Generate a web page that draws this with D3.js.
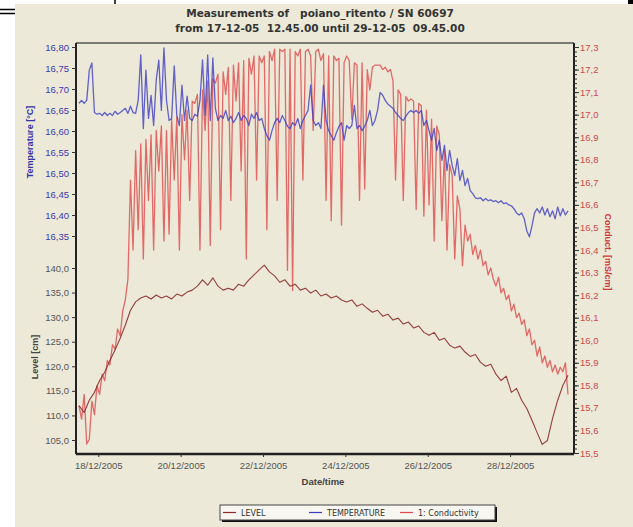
<!DOCTYPE html>
<html>
<head>
<meta charset="utf-8">
<title>Measurements of poiano_ritento</title>
<script src="https://d3js.org/d3.v7.min.js"></script>
<style>
  body { margin: 0; background: #fff; }
  svg text { font-family: "Liberation Sans", Arial, sans-serif; }
  .tick line { stroke: #333; }
</style>
</head>
<body>
<div id="chart"></div>
<script>
// ---- data ----
const titleLines = ["Measurements of   poiano_ritento / SN 60697",
                    "from 17-12-05  12.45.00 until 29-12-05  09.45.00"];

// temperature + conductivity sampled every 90 min from 17-12-05 12:45
const sampleStart = new Date(2005, 11, 17, 12, 45);
const sampleStepMin = 90;
const tempValues = [
  16.666, 16.673, 16.666, 16.673, 16.745, 16.762, 16.644, 16.640, 16.642, 16.637,
  16.644, 16.637, 16.642, 16.637, 16.647, 16.640, 16.644, 16.649, 16.654, 16.642,
  16.659, 16.644, 16.642, 16.673, 16.781, 16.606, 16.745, 16.630, 16.685, 16.613,
  16.721, 16.769, 16.649, 16.798, 16.673, 16.625, 16.630, 16.755, 16.637, 16.613,
  16.709, 16.625, 16.683, 16.630, 16.625, 16.640, 16.635, 16.673, 16.769, 16.637,
  16.781, 16.625, 16.774, 16.654, 16.625, 16.637, 16.630, 16.649, 16.625, 16.635,
  16.620, 16.630, 16.644, 16.625, 16.637, 16.630, 16.613, 16.640, 16.630, 16.644,
  16.625, 16.630, 16.606, 16.589, 16.578, 16.601, 16.620, 16.630, 16.620, 16.637,
  16.625, 16.611, 16.606, 16.620, 16.613, 16.630, 16.606, 16.625, 16.637, 16.649,
  16.709, 16.625, 16.613, 16.620, 16.606, 16.709, 16.625, 16.601, 16.589, 16.578,
  16.596, 16.611, 16.620, 16.578, 16.613, 16.606, 16.613, 16.661, 16.606, 16.613,
  16.601, 16.611, 16.625, 16.649, 16.613, 16.625, 16.649, 16.692, 16.685, 16.673,
  16.664, 16.659, 16.654, 16.644, 16.637, 16.630, 16.625, 16.635, 16.644, 16.649,
  16.644, 16.649, 16.642, 16.649, 16.613, 16.625, 16.601, 16.578, 16.606, 16.554,
  16.578, 16.530, 16.566, 16.506, 16.554, 16.518, 16.494, 16.534, 16.482, 16.506,
  16.470, 16.487, 16.458, 16.451, 16.441, 16.439, 16.441, 16.434, 16.439, 16.434,
  16.436, 16.432, 16.434, 16.429, 16.434, 16.427, 16.429, 16.424, 16.422, 16.415,
  16.405, 16.400, 16.405, 16.391, 16.362, 16.348, 16.374, 16.405, 16.415, 16.405,
  16.419, 16.400, 16.415, 16.396, 16.410, 16.391, 16.419, 16.398, 16.415, 16.400,
  16.410
];
const condValues = [
  15.71, 15.65, 15.76, 15.54, 15.56, 15.73, 15.67, 15.80, 15.76, 15.85,
  15.82, 15.91, 15.89, 15.98, 15.96, 16.05, 16.02, 16.13, 16.18, 16.27,
  16.71, 16.40, 16.84, 16.49, 16.87, 16.36, 16.89, 16.62, 16.91, 16.40,
  16.93, 16.75, 16.95, 16.44, 16.93, 16.47, 16.98, 16.71, 16.99, 16.40,
  17.00, 16.80, 17.02, 16.62, 17.06, 17.05, 17.09, 16.40, 17.11, 16.93,
  17.15, 16.42, 17.16, 17.14, 17.18, 16.49, 17.19, 17.09, 17.21, 16.62,
  17.22, 17.06, 17.23, 16.75, 17.24, 16.36, 17.25, 17.18, 17.26, 16.71,
  17.26, 17.23, 17.26, 16.49, 17.28, 17.24, 17.29, 16.62, 17.29, 17.28,
  17.29, 16.31, 17.29, 16.22, 17.28, 17.26, 17.29, 16.71, 17.28, 17.29,
  17.26, 16.93, 17.28, 17.29, 17.24, 17.27, 16.62, 17.26, 16.53, 17.26,
  17.24, 17.25, 16.51, 17.23, 17.26, 17.24, 16.98, 17.23, 17.22, 16.62,
  17.23, 16.67, 17.20, 17.11, 17.21, 17.22, 17.22, 17.22, 17.20, 17.21,
  17.19, 17.20, 17.15, 16.71, 17.11, 17.09, 16.62, 17.08, 17.06, 17.07,
  17.06, 16.58, 17.05, 17.04, 16.55, 17.02, 16.60, 16.98, 16.44, 16.95,
  16.91, 16.53, 16.84, 16.40, 16.78, 16.73, 16.36, 16.64, 16.58, 16.33,
  16.51, 16.44, 16.47, 16.38, 16.42, 16.36, 16.40, 16.33, 16.35, 16.29,
  16.32, 16.27, 16.24, 16.28, 16.21, 16.23, 16.18, 16.20, 16.13, 16.16,
  16.10, 16.12, 16.07, 16.09, 16.02, 16.05, 15.98, 16.00, 15.93, 15.97,
  15.90, 15.93, 15.88, 15.91, 15.86, 15.89, 15.85, 15.88, 15.86, 15.90,
  15.76
];
// level sampled every 3 h from the same start
const levelStepMin = 180;
const levelValues = [
  112.0, 110.6, 113.1, 114.7, 117.1, 118.8, 121.2, 123.3, 125.7, 128.4,
  131.4, 133.1, 133.9, 134.3, 133.7, 134.5, 133.9, 134.3, 133.7, 134.7,
  134.3, 135.1, 135.5, 136.3, 137.6, 136.5, 138.0, 136.3, 135.5, 135.9,
  135.5, 136.7, 136.3, 137.6, 138.6, 139.6, 140.6, 139.2, 138.4, 137.1,
  137.6, 136.3, 136.7, 135.5, 135.9, 134.9, 135.5, 134.3, 134.7, 133.9,
  134.3, 133.5, 133.1, 133.5, 132.2, 132.7, 131.8, 131.0, 131.4, 130.2,
  130.6, 129.4, 129.8, 128.6, 129.0, 127.8, 128.2, 126.9, 126.3, 126.9,
  125.3, 125.7, 124.3, 123.7, 124.1, 122.9, 122.0, 122.4, 120.8, 120.0,
  120.4, 118.4, 117.1, 118.0, 114.7, 115.5, 113.1, 111.4, 109.0, 106.5,
  104.1, 104.9, 109.4, 113.1, 116.1, 118.2
];

const tempTicks = [16.35, 16.40, 16.45, 16.50, 16.55, 16.60, 16.65, 16.70, 16.75, 16.80];
const levelTicks = [105, 110, 115, 120, 125, 130, 135, 140];
const condTicks = [15.5, 15.6, 15.7, 15.8, 15.9, 16.0, 16.1, 16.2, 16.3, 16.4,
                   16.5, 16.6, 16.7, 16.8, 16.9, 17.0, 17.1, 17.2, 17.3];
const dateTicks = [18, 20, 22, 24, 26, 28].map(d => new Date(2005, 11, d));
const legendItems = ["LEVEL", "TEMPERATURE", "1: Conductivity"];

// ---- layout ----
const W = 633, H = 527;
const plot = {left: 76, right: 574, top: 43, bottom: 454};
const colors = {level: "#8c2b2b", temp: "#3d3dc4", cond: "#e0494a", bg: "#ece9d8"};

const svg = d3.select("#chart").append("svg")
    .attr("width", W).attr("height", H);

svg.append("rect").attr("width", W).attr("height", H).attr("fill", "#fff");
svg.append("rect").attr("x", 15).attr("y", 4).attr("width", W - 15).attr("height", H - 4)
    .attr("fill", colors.bg);

// bits of the window frame poking in at the top
svg.append("line").attr("x1", 0).attr("x2", 15).attr("y1", 9.5).attr("y2", 9.5)
    .attr("stroke", "#000").attr("stroke-width", 1.5);
svg.append("line").attr("x1", 0).attr("x2", 15).attr("y1", 13.5).attr("y2", 13.5)
    .attr("stroke", "#000").attr("stroke-width", 1.5);
svg.append("line").attr("x1", 115).attr("x2", 115).attr("y1", 0).attr("y2", 4)
    .attr("stroke", "#000").attr("stroke-width", 1.5);
svg.append("rect").attr("x", 628).attr("y", 0).attr("width", 5).attr("height", 4).attr("fill", "#000");

// title (keep the logger's repeated spaces)
svg.selectAll(".title").data(titleLines).enter().append("text")
    .attr("class", "title")
    .attr("x", 320).attr("y", (d, i) => 17 + i * 15)
    .attr("text-anchor", "middle")
    .style("white-space", "pre")
    .style("font-family", "'DejaVu Sans', sans-serif")
    .attr("font-size", 10.5).attr("font-weight", "bold").attr("fill", "#333")
    .text(d => d);

// ---- scales ----
const x = d3.scaleTime()
    .domain([new Date(2005, 11, 17, 11, 0), new Date(2005, 11, 29, 13, 15)])
    .range([plot.left, plot.right]);
const yTemp = d3.scaleLinear().domain([16.35, 16.80]).range([236, 47]);
const yLevel = d3.scaleLinear().domain([105, 140]).range([440, 268]);
const yCond = d3.scaleLinear().domain([15.5, 17.3]).range([453, 47]);

const loc = d3.formatLocale({decimal: ",", thousands: ".", grouping: [3], currency: ["", ""]});
const f2 = loc.format(".2f"), f1 = loc.format(".1f");

const timeAt = (i, step) => new Date(sampleStart.getTime() + i * step * 60000);

// ---- series ----
const g = svg.append("g");
function drawSeries(values, step, yScale, color, width, opacity) {
  const line = d3.line()
      .x((d, i) => x(timeAt(i, step)))
      .y(d => yScale(d));
  g.append("path")
      .datum(values)
      .attr("d", line)
      .attr("fill", "none")
      .attr("stroke", color)
      .attr("stroke-width", width)
      .attr("stroke-opacity", opacity)
      .attr("stroke-linejoin", "round");
}
drawSeries(condValues, sampleStepMin, yCond, colors.cond, 1.3, 0.8);
drawSeries(tempValues, sampleStepMin, yTemp, colors.temp, 1.3, 0.8);
drawSeries(levelValues, levelStepMin, yLevel, colors.level, 1.1, 0.9);

// ---- frame ----
svg.append("line").attr("x1", plot.left).attr("x2", plot.right).attr("y1", plot.top).attr("y2", plot.top)
    .attr("stroke", "#555").attr("stroke-width", 1.5);
svg.append("line").attr("x1", plot.left).attr("x2", plot.left).attr("y1", plot.top).attr("y2", plot.bottom)
    .attr("stroke", "#222").attr("stroke-width", 2);
svg.append("line").attr("x1", plot.right).attr("x2", plot.right).attr("y1", plot.top).attr("y2", plot.bottom)
    .attr("stroke", "#222").attr("stroke-width", 2);
svg.append("line").attr("x1", plot.left).attr("x2", plot.right).attr("y1", plot.bottom).attr("y2", plot.bottom)
    .attr("stroke", "#222").attr("stroke-width", 2.5);

// ---- axes ----
function styleAxis(sel, color) {
  sel.select(".domain").remove();
  sel.selectAll("text").attr("fill", color).attr("font-size", 9.5)
      .attr("font-family", "'Liberation Sans', Arial, sans-serif");
  sel.selectAll(".tick line").attr("stroke", "#333");
}

svg.append("g").attr("transform", `translate(${plot.left},0)`)
    .call(d3.axisLeft(yTemp).tickValues(tempTicks).tickFormat(f2).tickSize(4).tickPadding(3))
    .call(s => styleAxis(s, "#3a3ab0"));
svg.append("g").attr("transform", `translate(${plot.left},0)`)
    .call(d3.axisLeft(yLevel).tickValues(levelTicks).tickFormat(f1).tickSize(4).tickPadding(3))
    .call(s => styleAxis(s, "#555"));

// right axis: minor ticks every 0.02 then labelled majors
svg.append("g").attr("transform", `translate(${plot.right},0)`)
    .call(d3.axisRight(yCond).ticks(90).tickFormat("").tickSize(3))
    .call(s => styleAxis(s, "#d04a4a"));
svg.append("g").attr("transform", `translate(${plot.right},0)`)
    .call(d3.axisRight(yCond).tickValues(condTicks).tickFormat(f1).tickSize(5).tickPadding(1))
    .call(s => styleAxis(s, "#d04a4a"));

svg.append("g").attr("transform", `translate(0,${plot.bottom})`)
    .call(d3.axisBottom(x).tickValues(dateTicks).tickFormat(d3.timeFormat("%d/%m/%Y")).tickSize(3).tickPadding(5))
    .call(s => styleAxis(s, "#555"));

// axis titles
svg.append("text").attr("transform", "translate(33,142) rotate(-90)")
    .attr("text-anchor", "middle").attr("font-size", 9).attr("font-weight", "bold")
    .attr("fill", "#3535a8").text("Temperature [°C]");
svg.append("text").attr("transform", "translate(38,357) rotate(-90)")
    .attr("text-anchor", "middle").attr("font-size", 9).attr("font-weight", "bold")
    .attr("fill", "#444").text("Level [cm]");
svg.append("text").attr("transform", "translate(605,252) rotate(90)")
    .attr("text-anchor", "middle").attr("font-size", 9).attr("font-weight", "bold")
    .attr("fill", "#cc3a3a").text("Conduct. [mS/cm]");
svg.append("text").attr("x", 323).attr("y", 485)
    .attr("text-anchor", "middle").attr("font-size", 9.5).attr("font-weight", "bold")
    .attr("fill", "#444").text("Date/time");

// ---- legend ----
const lg = svg.append("g");
lg.append("rect").attr("x", 222).attr("y", 507).attr("width", 275).attr("height", 15).attr("fill", "#111");
lg.append("rect").attr("x", 220).attr("y", 505).attr("width", 275).attr("height", 15)
    .attr("fill", "#f7f6f0").attr("stroke", "#444").attr("stroke-width", 1);
const legendX = d3.scaleOrdinal().domain(legendItems).range([223, 309, 400]);
const legendColor = d3.scaleOrdinal().domain(legendItems).range([colors.level, colors.temp, colors.cond]);
const items = lg.selectAll(".item").data(legendItems).enter().append("g")
    .attr("transform", d => `translate(${legendX(d)},512.5)`);
items.append("line").attr("x1", 0).attr("x2", 13).attr("stroke", d => legendColor(d)).attr("stroke-width", 1.2);
items.append("text").attr("x", 18).attr("y", 3).attr("font-size", 8).attr("fill", "#333")
    .style("font-family", "'DejaVu Sans', sans-serif").text(d => d);
</script>
</body>
</html>
